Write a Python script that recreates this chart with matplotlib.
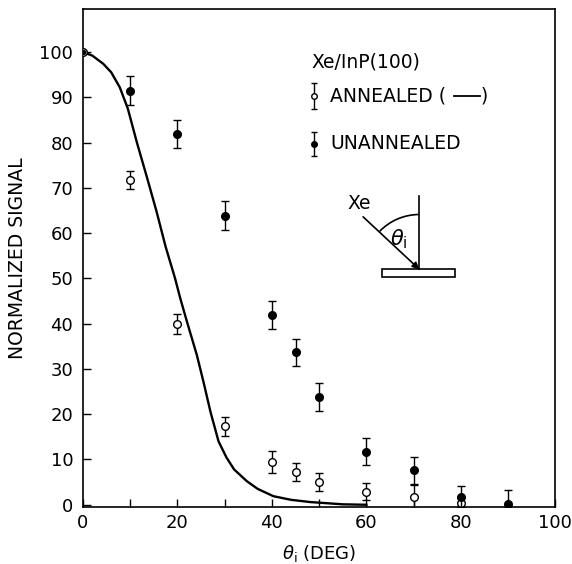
import numpy as np
import matplotlib
matplotlib.use('Agg')
import matplotlib.pyplot as plt
from matplotlib.patches import Rectangle, Arc

plt.rcParams['font.family'] = ['DejaVu Sans']
plt.rcParams['mathtext.fontset'] = 'dejavusans'

# data
angle = [0, 10, 20, 30, 40, 45, 50, 60, 70, 80, 90]
annealed = [100, 71.8, 39.9, 17.3, 9.5, 7.3, 5.1, 2.9, 1.8, 0.5]
annealed_err = [0, 2.0, 2.2, 2.1, 2.4, 2.0, 2.0, 1.9, 2.5, 1.0]
unannealed = [100, 91.5, 81.9, 63.8, 41.9, 33.7, 23.8, 11.7, 7.6, 1.8, 0.2]
unannealed_err = [0, 3.2, 3.1, 3.2, 3.1, 3.0, 3.0, 3.0, 3.0, 2.3, 3.0]

curve_x = [0, 2, 4.3, 6, 7.8, 9.5, 11.4, 13.5, 15.6, 17.5, 19.5, 20.6, 22, 24.1,
           25.5, 27, 28.7, 30.4, 32, 34.7, 37, 40.3, 44, 48.1, 55, 60]
curve_y = [100, 99.2, 97.4, 95.5, 92.2, 87.5, 80.1, 72.5, 64.7, 57, 50, 45.6, 40.5, 33.1,
           27.2, 20.5, 14, 10.4, 7.8, 5.2, 3.5, 1.9, 1.1, 0.6, 0.1, 0]

fig = plt.figure(figsize=(5.72, 5.64), dpi=100)
ax = fig.add_axes([0.145, 0.101, 0.826, 0.883])
ax.set_xlim(0, 100)
ax.set_ylim(-0.5, 109.5)

ax.plot(curve_x, curve_y, color='black', lw=1.7, zorder=2)

ax.errorbar(angle[:len(annealed)], annealed, yerr=annealed_err, fmt='o', ms=5.5,
            mfc='white', mec='black', mew=1.0, ecolor='black', elinewidth=1.0,
            capsize=2.8, capthick=1.0, zorder=3)
ax.errorbar(angle[1:], unannealed[1:], yerr=unannealed_err[1:], fmt='o', ms=5.5,
            mfc='black', mec='black', ecolor='black', elinewidth=1.0,
            capsize=2.8, capthick=1.0, zorder=4)
ax.plot(angle[0], unannealed[0], 'o', ms=3, color='black', zorder=5)

ax.set_xticks(np.arange(0, 101, 20))
ax.set_xticks(np.arange(10, 100, 20), minor=True)
ax.set_yticks(np.arange(0, 101, 10))
ax.tick_params(which='both', direction='in', length=6, width=1.0,
               labelsize=13, top=False, right=False)
ax.tick_params(axis='y', pad=7)
ax.tick_params(axis='x', pad=5)
for s in ax.spines.values():
    s.set_linewidth(1.2)

ax.set_ylabel('NORMALIZED SIGNAL', fontsize=13.5, labelpad=9)
ax.set_xlabel(r'$\theta_{\rm i}$ (DEG)', fontsize=13, labelpad=8)

# legend drawn by hand
fs = 13.5
ax.text(48.3, 97.8, 'Xe/InP(100)', fontsize=fs, ha='left', va='center')
ax.errorbar([49], [90.3], yerr=[2.9], fmt='o', ms=4, mfc='white', mec='black',
            ecolor='black', elinewidth=1.0, capsize=2.5)
ax.text(52.3, 90.3, 'ANNEALED (', fontsize=fs, ha='left', va='center')
ax.plot([78.6, 84.0], [90.3, 90.3], color='black', lw=1.3)
ax.text(84.2, 90.3, ')', fontsize=fs, ha='left', va='center')
ax.errorbar([49], [79.7], yerr=[2.7], fmt='o', ms=4, mfc='black', mec='black',
            ecolor='black', elinewidth=1.0, capsize=2.5)
ax.text(52.3, 79.7, 'UNANNEALED', fontsize=fs, ha='left', va='center')

# incidence angle sketch
ax.add_patch(Rectangle((63.3, 50.3), 15.5, 1.7, fill=False, ec='black', lw=1.2))
ax.plot([71.2, 71.2], [52.0, 68.3], color='black', lw=1.2)
ax.annotate('', xy=(71.2, 52.0), xytext=(59.3, 63.6),
            arrowprops=dict(arrowstyle='-|>', color='black', lw=1.2,
                            mutation_scale=10, shrinkA=0, shrinkB=0))
ax.add_patch(Arc((71.2, 52.0), 2 * 55 / 4.72, 2 * 55 / 4.54, theta1=90, theta2=135,
                 color='black', lw=1.2))
ax.text(58.5, 66.5, 'Xe', fontsize=fs, ha='center', va='center')
ax.text(66.8, 58.6, r'$\theta_{\rm i}$', fontsize=15, ha='center', va='center')

fig.savefig('out.png', dpi=100, facecolor='white')
